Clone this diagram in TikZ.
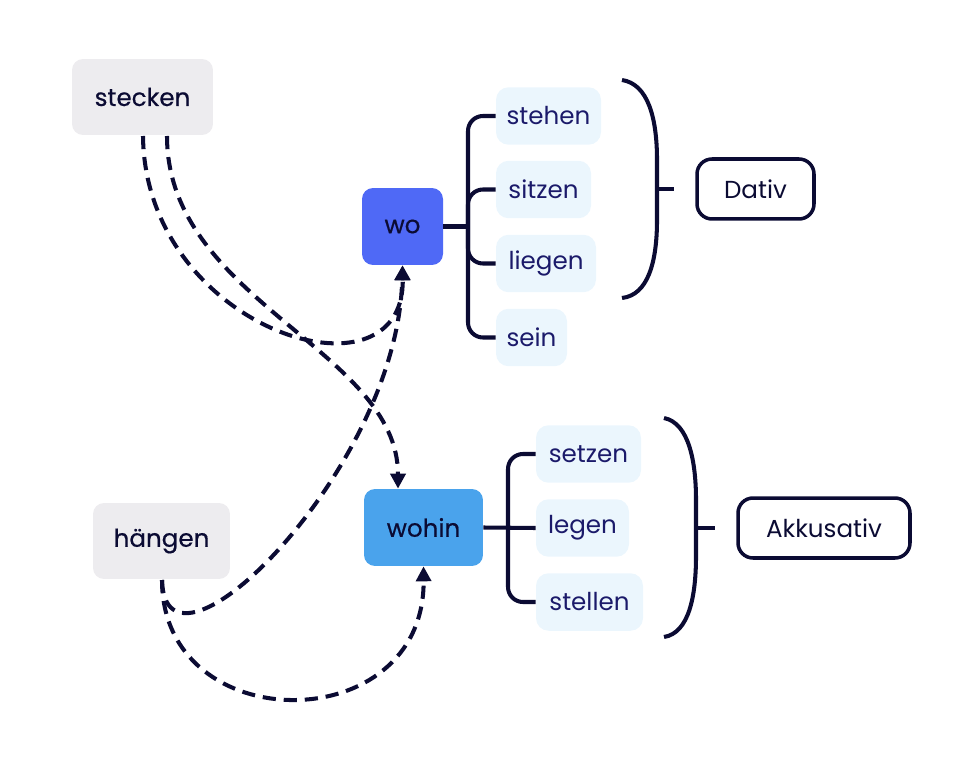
\documentclass[tikz,border=0pt]{standalone}
\usepackage{fontspec}
\setmainfont{Poppins}
\newfontfamily\medfont{Poppins}[FakeBold=0.5]
\usetikzlibrary{arrows.meta}
\definecolor{ink}{HTML}{0B0B33}
\definecolor{navy}{HTML}{1B1A6A}
\definecolor{greyfill}{HTML}{EDECEF}
\definecolor{wofill}{HTML}{4F69F6}
\definecolor{wohinfill}{HTML}{4AA3EC}
\definecolor{leaffill}{HTML}{EBF6FD}
\tikzset{
  base/.style={inner sep=0pt, rounded corners=0.22cm, font=\fontsize{14}{16}\selectfont},
  verb/.style={base, fill=greyfill, text=ink, minimum height=1.52cm, font=\fontsize{14}{16}\selectfont\medfont},
  question/.style={base, text=ink, minimum height=1.54cm, font=\fontsize{14}{16}\selectfont\medfont},
  leaf/.style={base, fill=leaffill, text=navy, minimum height=1.15cm, rounded corners=0.25cm},
  caseword/.style={base, draw=ink, line width=2pt, text=ink, minimum height=1.2cm, rounded corners=0.3cm},
  tree/.style={draw=ink, line width=2.3pt, rounded corners=0.3cm},
  brace/.style={draw=ink, line width=2.3pt},
  flow/.style={draw=ink, line width=2.3pt, dash pattern=on 7.5pt off 4.5pt, -{Triangle[length=8.5pt,width=8.5pt]}},
}
\begin{document}
\begin{tikzpicture}[x=0.02cm,y=-0.02cm]
\useasboundingbox (0,0) rectangle (972,766);
% verbs
\node[verb, minimum width=2.82cm] (stecken) at (142.5,97) {stecken};
\node[verb, minimum width=2.74cm] (haengen) at (161.5,541) {hängen};
% question nodes
\node[question, fill=wofill, minimum width=1.62cm] (wo) at (402.5,226.5) {wo};
\node[question, fill=wohinfill, minimum width=2.38cm] (wohin) at (423.5,527.5) {wohin};
% Dativ leaves
\node[leaf, minimum width=2.10cm] (stehen) at (548.5,116) {stehen};
\node[leaf, minimum width=1.90cm] (sitzen) at (543.5,189.5) {sitzen};
\node[leaf, minimum width=2.00cm] (liegen) at (546,263.5) {liegen};
\node[leaf, minimum width=1.42cm] (sein) at (531.5,337.5) {sein};
% Akkusativ leaves
\node[leaf, minimum width=2.10cm] (setzen) at (588.5,454) {setzen};
\node[leaf, minimum width=1.86cm] (legen) at (582.5,528) {legen};
\node[leaf, minimum width=2.14cm] (stellen) at (589.5,602) {stellen};
% case nodes
\node[caseword, minimum width=2.34cm] (dativ) at (755.5,189) {Dativ};
\node[caseword, minimum width=3.44cm] (akk) at (824,528) {Akkusativ};
% tree junctions
\coordinate (jwo) at (468,226.5);
\coordinate (jak) at (508,528);
\draw[tree] (wo.east) -- (jwo);
\draw[tree] (stehen.west) -| (jwo) |- (sein.west);
\draw[tree] (sitzen.west) -| (jwo);
\draw[tree] (liegen.west) -| (jwo);
\draw[tree] (wohin.east) -- (legen.west);
\draw[tree] (setzen.west) -| (jak) |- (stellen.west);
% braces
\coordinate (bd) at (657,189);
\coordinate (bdt) at (674,189);
\draw[brace] (622,80) .. controls (648,84) and (657,118) .. (657,160) -- (657,220) .. controls (657,262) and (648,295) .. (622,298);
\draw[brace] (bd) -- (bdt);
\coordinate (ba) at (696,528);
\coordinate (bat) at (715,528);
\draw[brace] (664,418) .. controls (689,423) and (696,462) .. (696,500) -- (696,556) .. controls (696,596) and (689,633) .. (664,637);
\draw[brace] (ba) -- (bat);
% dashed flows
\coordinate (sA) at (143,136);
\coordinate (sB) at (167,136);
\coordinate (wohinin) at ([xshift=-0.51cm]wohin.north);
\draw[flow] (sA) .. controls (145,330) and (405,410) .. (wo.south);
\draw[flow] (sB) .. controls (167,300) and (398,350) .. (wohinin);
\coordinate (hA) at (162,580);
\draw[flow] (hA) .. controls (165,700) and (398,470) .. (wo.south);
\draw[flow] (hA) .. controls (162,740) and (425,740) .. (wohin.south);
\end{tikzpicture}
\end{document}
